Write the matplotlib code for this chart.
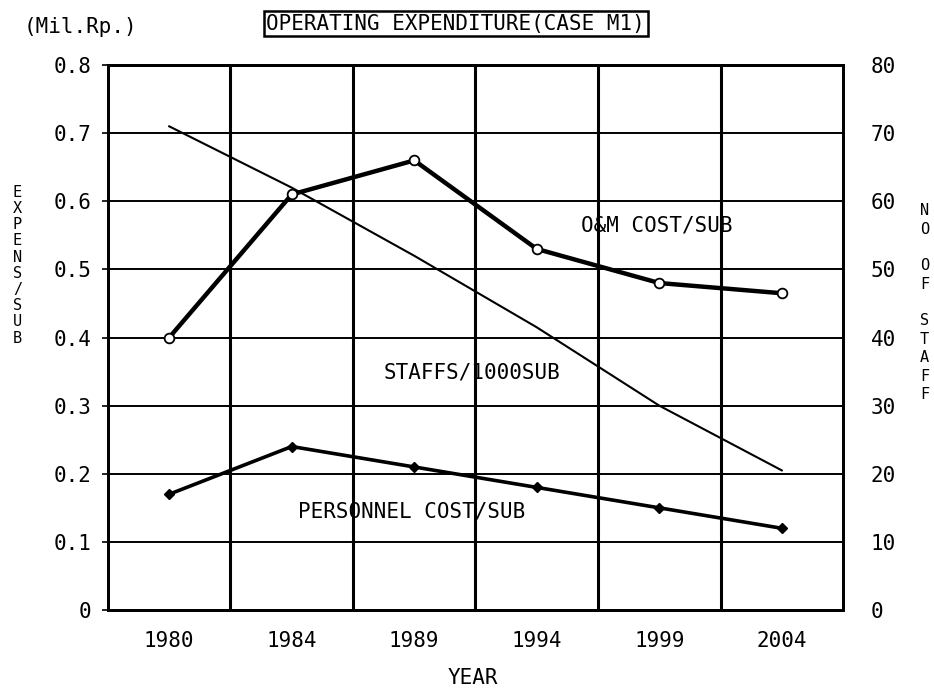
import matplotlib.pyplot as plt
import numpy as np

plt.rcParams['font.family'] = ['DejaVu Sans Mono']

years = ['1980', '1984', '1989', '1994', '1999', '2004']
om_cost = [0.40, 0.61, 0.66, 0.53, 0.48, 0.465]
personnel_cost = [0.17, 0.24, 0.21, 0.18, 0.15, 0.12]
staffs = [71, 62, 52, 41.5, 30, 20.5]

left_ticks = [0, 0.1, 0.2, 0.3, 0.4, 0.5, 0.6, 0.7, 0.8]
left_labels = ['0', '0.1', '0.2', '0.3', '0.4', '0.5', '0.6', '0.7', '0.8']
right_ticks = [0, 10, 20, 30, 40, 50, 60, 70, 80]

fs = 15
x = np.arange(len(years))

fig = plt.figure(figsize=(9.34, 6.94), dpi=100)
ax = fig.add_axes([0.1156, 0.121, 0.787, 0.7853])
ax2 = ax.twinx()

ax.set_xlim(-0.5, len(years) - 0.5)
ax.set_ylim(0, 0.8)
ax2.set_ylim(0, 80)

# grid: thick verticals between the years, thinner horizontals
for gx in x[:-1] + 0.5:
    ax.axvline(gx, color='black', lw=2.2, zorder=1)
for gy in left_ticks[1:-1]:
    ax.axhline(gy, color='black', lw=1.4, zorder=1)

ax.plot(x, om_cost, color='black', lw=3.2, marker='o', ms=7,
        mfc='white', mec='black', mew=1.3, zorder=3)
ax.plot(x, personnel_cost, color='black', lw=2.6, marker='D', ms=5,
        mfc='black', mec='black', zorder=3)
ax2.plot(x, staffs, color='black', lw=1.5, zorder=3)

ax.set_xticks(x)
ax.set_xticklabels(years, fontsize=fs)
ax.tick_params(axis='x', length=0, pad=15)
ax.set_yticks(left_ticks)
ax.set_yticklabels(left_labels, fontsize=fs)
ax.tick_params(axis='y', length=4, width=1.2, pad=8, direction='out')
ax2.set_yticks(right_ticks)
ax2.set_yticklabels([str(t) for t in right_ticks], fontsize=fs)
ax2.tick_params(axis='y', length=0, pad=20)

for sp in ax.spines.values():
    sp.set_linewidth(2)
for sp in ax2.spines.values():
    sp.set_linewidth(2)

ax.text(3.98, 0.565, 'O&M COST/SUB', fontsize=fs, ha='center', va='center')
ax.text(2.47, 0.348, 'STAFFS/1000SUB', fontsize=fs, ha='center', va='center')
ax.text(1.98, 0.144, 'PERSONNEL COST/SUB', fontsize=fs, ha='center', va='center')

fig.text(0.506, 0.023, 'YEAR', fontsize=fs, ha='center', va='center')
fig.text(0.025, 0.961, '(Mil.Rp.)', fontsize=fs, ha='left', va='center')
fig.text(0.488, 0.966, 'OPERATING EXPENDITURE(CASE M1)', fontsize=fs,
         ha='center', va='center',
         bbox=dict(boxstyle='square,pad=0.12', fc='white', ec='black', lw=1.8))

fig.text(0.0187, 0.618, '\n'.join('EXPENS/SUB'), fontsize=11,
         ha='center', va='center', linespacing=1.1)
fig.text(0.990, 0.564, '\n'.join('NO OF STAFF'), fontsize=11,
         ha='center', va='center', linespacing=1.28)

fig.savefig('out.png', dpi=100)
